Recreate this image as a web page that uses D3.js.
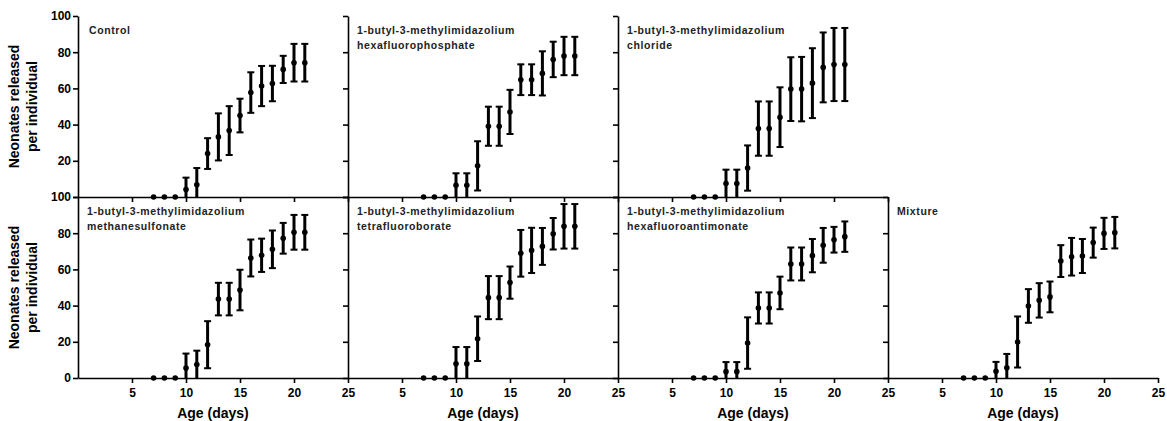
<!DOCTYPE html>
<html>
<head>
<meta charset="utf-8">
<script src="https://cdn.jsdelivr.net/npm/d3@7"></script>
<style>
  body { margin: 0; background: #fff; }
  svg { font-family: "Liberation Sans", Arial, sans-serif; font-weight: bold; }
  .axis path, .axis line { stroke: #000; stroke-width: 1.6px; }
  .axis text { font-size: 12px; font-weight: bold; fill: #000; }
</style>
</head>
<body>
<div id="chart"></div>
<script>
// data
const days = [7, 8, 9, 10, 11, 12, 13, 14, 15, 16, 17, 18, 19, 20, 21];

const controlMean = [0, 0, 0, 4.1, 6.8, 24, 33.2, 36.7, 45, 57.7, 61.3, 62.7, 70.5, 74.2, 74.2];
const controlErr  = [0, 0, 0, 6.6, 9.2, 8.5, 13, 13.5, 9.3, 11.2, 11.1, 9.8, 7.5, 10.4, 10.4];

const pf6Mean = [0, 0, 0, 6.5, 6.5, 17.2, 39.1, 39.1, 47, 64.8, 64.8, 68.3, 76, 77.9, 77.9];
const pf6Err  = [0, 0, 0, 6.6, 6.6, 13.6, 10.8, 10.8, 12.2, 8.5, 8.5, 12.2, 9.8, 10.6, 10.6];

const clMean = [0, 0, 0, 7.4, 7.4, 16, 37.8, 37.8, 44.1, 59.6, 59.6, 62.9, 71.6, 73.2, 73.2];
const clErr  = [0, 0, 0, 7.7, 7.7, 12.5, 15, 15, 16.5, 17.6, 17.8, 19.3, 19.3, 20.2, 20.2];

const msMean = [0, 0, 0, 5.5, 7.4, 18.4, 43.6, 43.6, 48.6, 66.3, 67.8, 71.1, 77.2, 80.5, 80.5];
const msErr  = [0, 0, 0, 8, 7.7, 13, 9, 9, 11.2, 10.2, 9.2, 10.4, 8.5, 9.6, 9.6];

const bf4Mean = [0, 0, 0, 7.9, 7.9, 21.7, 44.4, 44.4, 52.7, 68.9, 70.5, 72.7, 79.7, 83.8, 83.8];
const bf4Err  = [0, 0, 0, 9.2, 9.2, 12.3, 11.9, 11.9, 8.9, 12.9, 12.5, 10.2, 8.7, 12.3, 12.3];

const sbf6Mean = [0, 0, 0, 3.5, 3.5, 19.3, 38.7, 38.7, 47, 63, 63, 67.6, 73.3, 76.4, 78.1];
const sbf6Err  = [0, 0, 0, 5.3, 5.3, 14.2, 8.6, 8.6, 9, 9.1, 9.1, 9.2, 9.6, 7.1, 8.4];

const mixMean = [0, 0, 0, 3.7, 5.7, 19.9, 39.8, 42.9, 44.8, 64.6, 67, 67.4, 74.8, 79.9, 80.3];
const mixErr  = [0, 0, 0, 5.2, 7.6, 14.1, 9.3, 9.5, 8.5, 8.8, 10.4, 9.4, 8.3, 8.6, 8.7];

const panelTitles = [
  ["Control"],
  ["1-butyl-3-methylimidazolium", "hexafluorophosphate"],
  ["1-butyl-3-methylimidazolium", "chloride"],
  ["1-butyl-3-methylimidazolium", "methanesulfonate"],
  ["1-butyl-3-methylimidazolium", "tetrafluoroborate"],
  ["1-butyl-3-methylimidazolium", "hexafluoroantimonate"],
  ["Mixture"]
];
const panelMeans = [controlMean, pf6Mean, clMean, msMean, bf4Mean, sbf6Mean, mixMean];
const panelErrs = [controlErr, pf6Err, clErr, msErr, bf4Err, sbf6Err, mixErr];
const panelCells = [[0, 0], [0, 1], [0, 2], [1, 0], [1, 1], [1, 2], [1, 3]]; // [row, col]

const xTicks = [5, 10, 15, 20, 25];
const yTicks = [0, 20, 40, 60, 80, 100];

const xLabel = "Age (days)";
const yLabel = ["Neonates released", "per individual"];

/* layout */
const width = 1167, height = 421;
const left0 = 78, top0 = 16, panelW = 270, panelH = 181;

const svg = d3.select("#chart").append("svg")
  .attr("width", width)
  .attr("height", height);

const x = d3.scaleLinear().domain([0, 25]).range([0, panelW]);
const y = d3.scaleLinear().domain([0, 100]).range([panelH, 0]).clamp(true);

panelCells.forEach(([row, col], i) => {
  const g = svg.append("g")
    .attr("transform", `translate(${left0 + col * panelW}, ${top0 + row * panelH})`);

  const rows = days.map((d, j) => ({ day: d, mean: panelMeans[i][j], err: panelErrs[i][j] }));

  // x axis
  const xAxis = d3.axisBottom(x).tickValues(xTicks).tickSize(5).tickSizeOuter(0).tickPadding(5);
  if (row === 0) xAxis.tickFormat("");
  g.append("g")
    .attr("class", "axis")
    .attr("transform", `translate(0, ${panelH})`)
    .call(xAxis);

  // y axis
  const yAxis = d3.axisLeft(y).tickValues(yTicks).tickSize(5).tickSizeOuter(0).tickPadding(2);
  if (col > 0) yAxis.tickFormat("");
  else if (row === 0) yAxis.tickFormat(v => v === 0 ? "" : v);
  g.append("g")
    .attr("class", "axis")
    .call(yAxis);

  // error bars
  const bars = g.selectAll(".bar")
    .data(rows.filter(d => d.err > 0))
    .join("g")
    .attr("class", "bar");

  bars.append("line")
    .attr("x1", d => x(d.day)).attr("x2", d => x(d.day))
    .attr("y1", d => y(d.mean - d.err)).attr("y2", d => y(d.mean + d.err))
    .attr("stroke", "#000").attr("stroke-width", 3);

  bars.append("line")
    .attr("x1", d => x(d.day) - 3.5).attr("x2", d => x(d.day) + 3.5)
    .attr("y1", d => y(d.mean + d.err)).attr("y2", d => y(d.mean + d.err))
    .attr("stroke", "#000").attr("stroke-width", 2);

  bars.filter(d => d.mean - d.err > 0).append("line")
    .attr("x1", d => x(d.day) - 3.5).attr("x2", d => x(d.day) + 3.5)
    .attr("y1", d => y(d.mean - d.err)).attr("y2", d => y(d.mean - d.err))
    .attr("stroke", "#000").attr("stroke-width", 2);

  // mean markers
  g.selectAll(".dot")
    .data(rows)
    .join("circle")
    .attr("class", "dot")
    .attr("cx", d => x(d.day))
    .attr("cy", d => y(d.mean))
    .attr("r", 2.8)
    .attr("fill", "#000");

  // panel title
  const tx = col === 0 && row === 0 ? 11 : 9;
  const title = g.append("text")
    .attr("x", tx)
    .attr("y", 18)
    .style("font-size", "10.5px")
    .style("letter-spacing", "0.6px")
    .attr("fill", "#222");
  panelTitles[i].forEach((t, k) => {
    title.append("tspan")
      .attr("x", tx)
      .attr("dy", k === 0 ? 0 : 14.5)
      .text(t);
  });

  // x axis title on bottom row
  if (row === 1) {
    g.append("text")
      .attr("x", x(12.5))
      .attr("y", panelH + 40)
      .attr("text-anchor", "middle")
      .style("font-size", "14px")
      .text(xLabel);
  }

  // y axis title on left column
  if (col === 0) {
    const yt = g.append("text")
      .attr("transform", `translate(-59, ${panelH / 2}) rotate(-90)`)
      .attr("text-anchor", "middle")
      .style("font-size", "14px");
    yLabel.forEach((t, k) => {
      yt.append("tspan")
        .attr("x", 0)
        .attr("dy", k === 0 ? 0 : 18)
        .text(t);
    });
  }
});
</script>
</body>
</html>
